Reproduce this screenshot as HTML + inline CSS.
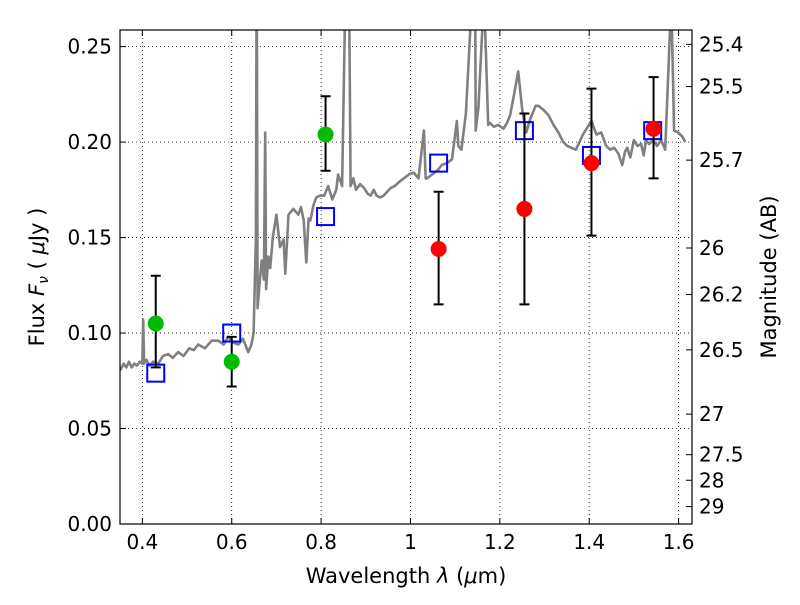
<!DOCTYPE html>
<html><head><meta charset="utf-8"><style>
body{margin:0;background:#fff}
svg{font-family:"DejaVu Sans","Liberation Sans",sans-serif}
</style></head><body>
<svg id="chart" width="800" height="600" xmlns="http://www.w3.org/2000/svg">
<rect width="800" height="600" fill="#fff"/>
<defs><clipPath id="pc"><rect x="120" y="30" width="572" height="494"/></clipPath></defs>
<g id="grid"></g>
<g id="spec" clip-path="url(#pc)"></g>
<g id="marks" clip-path="url(#pc)"></g>
<rect x="120" y="30" width="572" height="494" fill="none" stroke="#000" stroke-width="1.2"/>
<g id="axes"></g>
<text x="406" y="583" font-size="21" text-anchor="middle">Wavelength  <tspan font-style="italic">λ</tspan> (<tspan font-style="italic">μ</tspan>m)</text>
<text transform="translate(44,277) rotate(-90)" font-size="21" text-anchor="middle">Flux  <tspan font-style="italic">F</tspan><tspan font-style="italic" font-size="14" dy="4">ν</tspan><tspan dy="-4">  ( </tspan><tspan font-style="italic">μ</tspan>Jy )</text>
<text transform="translate(776,277) rotate(-90)" font-size="21" text-anchor="middle">Magnitude (AB)</text>
</svg>
<script>
const xTicks=[0.4,0.6,0.8,1.0,1.2,1.4,1.6];
const xTickLabels=["0.4","0.6","0.8","1","1.2","1.4","1.6"];
const yTicks=[0,0.05,0.10,0.15,0.20,0.25];
const yTickLabels=["0.00","0.05","0.10","0.15","0.20","0.25"];
const magTicks=[25.4,25.5,25.7,26,26.2,26.5,27,27.5,28,29];
const magLabels=["25.4","25.5","25.7","26","26.2","26.5","27","27.5","28","29"];
const specWave=[0.346,0.352,0.358,0.364,0.370,0.376,0.382,0.388,0.394,0.400,0.402,0.404,0.409,0.416,0.424,0.436,0.446,0.458,0.468,0.480,0.492,0.505,0.515,0.525,0.540,0.555,0.570,0.582,0.592,0.603,0.615,0.625,0.637,0.644,0.649,0.654,0.656,0.658,0.662,0.667,0.672,0.675,0.677,0.682,0.686,0.692,0.700,0.708,0.716,0.720,0.727,0.738,0.749,0.755,0.761,0.767,0.772,0.776,0.783,0.789,0.798,0.807,0.816,0.825,0.834,0.838,0.847,0.856,0.862,0.866,0.872,0.878,0.887,0.896,0.904,0.911,0.918,0.924,0.932,0.940,0.948,0.956,0.965,0.974,0.985,0.996,1.007,1.018,1.030,1.034,1.037,1.048,1.060,1.070,1.082,1.093,1.104,1.107,1.114,1.124,1.134,1.145,1.146,1.152,1.161,1.167,1.174,1.178,1.187,1.196,1.208,1.216,1.223,1.232,1.241,1.250,1.259,1.268,1.280,1.286,1.297,1.309,1.320,1.331,1.342,1.351,1.360,1.370,1.378,1.386,1.394,1.405,1.416,1.427,1.438,1.447,1.456,1.465,1.474,1.480,1.485,1.492,1.500,1.508,1.516,1.522,1.527,1.534,1.543,1.552,1.561,1.570,1.581,1.585,1.590,1.599,1.608,1.615,1.627];
const specFlux=[0.083,0.081,0.084,0.082,0.085,0.082,0.084,0.083,0.085,0.084,0.107,0.084,0.086,0.083,0.085,0.084,0.088,0.089,0.087,0.090,0.088,0.092,0.091,0.094,0.092,0.096,0.096,0.094,0.098,0.095,0.094,0.097,0.090,0.094,0.100,0.150,0.300,0.113,0.125,0.138,0.128,0.205,0.123,0.140,0.134,0.150,0.162,0.145,0.149,0.131,0.162,0.165,0.162,0.166,0.159,0.137,0.160,0.159,0.167,0.171,0.172,0.172,0.177,0.170,0.175,0.183,0.177,0.300,0.300,0.177,0.181,0.175,0.178,0.176,0.173,0.172,0.175,0.172,0.171,0.172,0.174,0.176,0.177,0.179,0.181,0.183,0.184,0.181,0.206,0.181,0.181,0.183,0.185,0.188,0.189,0.191,0.211,0.198,0.196,0.215,0.260,0.260,0.206,0.218,0.260,0.260,0.209,0.210,0.208,0.209,0.207,0.210,0.214,0.225,0.237,0.217,0.205,0.212,0.219,0.219,0.217,0.214,0.209,0.205,0.200,0.198,0.197,0.196,0.200,0.204,0.207,0.211,0.204,0.205,0.198,0.196,0.197,0.194,0.188,0.195,0.197,0.192,0.201,0.198,0.199,0.193,0.201,0.199,0.201,0.198,0.201,0.196,0.260,0.260,0.206,0.205,0.203,0.200];
const greenWave=[0.43,0.60,0.81];
const greenFlux=[0.105,0.085,0.204];
const greenLo=[0.082,0.072,0.185];
const greenHi=[0.130,0.098,0.224];
const redWave=[1.063,1.255,1.405,1.544];
const redFlux=[0.144,0.165,0.189,0.207];
const redLo=[0.115,0.115,0.151,0.181];
const redHi=[0.174,0.215,0.228,0.234];
const modelWave=[0.43,0.60,0.81,1.063,1.255,1.405,1.542];
const modelFlux=[0.079,0.100,0.161,0.189,0.206,0.193,0.206];

const X0=120,X1=692,Y0=524,Y1=30,xmin=0.350,xmax=1.630,ymin=0,ymax=0.2587;
const sx=v=>X0+(v-xmin)/(xmax-xmin)*(X1-X0);
const sy=v=>Y0-(v-ymin)/(ymax-ymin)*(Y0-Y1);
const NS="http://www.w3.org/2000/svg";
function mk(tag,attrs,parent){const e=document.createElementNS(NS,tag);for(const k in attrs)e.setAttribute(k,attrs[k]);parent.appendChild(e);return e;}
const grid=document.getElementById('grid'),axes=document.getElementById('axes'),spec=document.getElementById('spec'),marks=document.getElementById('marks');
xTicks.forEach((t,i)=>{const x=sx(t);
 let g=mk('line',{x1:x,x2:x,y1:Y1,y2:Y0,stroke:'#000','stroke-width':0.8,'stroke-dasharray':'1,3'},grid);
 
 
 mk('line',{x1:x,x2:x,y1:Y0,y2:Y0-6,stroke:'#000'},axes);
 mk('line',{x1:x,x2:x,y1:Y1,y2:Y1+6,stroke:'#000'},axes);
 let l=mk('text',{x:x,y:Y0+25,'font-size':20,'text-anchor':'middle'},axes);l.textContent=xTickLabels[i];
 
 
});
yTicks.forEach((t,i)=>{const y=sy(t);
 let g=mk('line',{x1:X0,x2:X1,y1:y,y2:y,stroke:'#000','stroke-width':0.8,'stroke-dasharray':'1,3'},grid);
 
 
 mk('line',{x1:X0,x2:X0+6,y1:y,y2:y,stroke:'#000'},axes);
 let l=mk('text',{x:X0-8,y:y+7,'font-size':20,'text-anchor':'end'},axes);l.textContent=yTickLabels[i];
 
 
});
magTicks.forEach((m,i)=>{const y=sy(Math.pow(10,(23.9-m)/2.5));
 mk('line',{x1:X1,x2:X1-6,y1:y,y2:y,stroke:'#000'},axes);
 let l=mk('text',{x:X1+7,y:y+7,'font-size':20},axes);l.textContent=magLabels[i];
 
 
});
let d=specWave.map((w,i)=>(i?'L':'M')+sx(w).toFixed(1)+','+sy(specFlux[i]).toFixed(1)).join('');
let sp=mk('path',{d:d,fill:'none',stroke:'#808080','stroke-width':2.6,'stroke-linejoin':'round'},spec);


function errs(w,lo,hi){w.forEach((v,i)=>{const x=sx(v);
 let e=mk('path',{d:`M${x},${sy(lo[i])}V${sy(hi[i])}M${x-5},${sy(lo[i])}h10M${x-5},${sy(hi[i])}h10`,stroke:'#000','stroke-width':2,fill:'none'},marks);
 
 
});}
modelWave.forEach((v,i)=>{
 let r=mk('rect',{x:sx(v)-8.5,y:sy(modelFlux[i])-8.5,width:17,height:17,fill:'none',stroke:'#0000ff','stroke-width':2},marks);
 
 
});
errs(greenWave,greenLo,greenHi);
errs(redWave,redLo,redHi);
greenWave.forEach((v,i)=>{
 let c=mk('circle',{cx:sx(v),cy:sy(greenFlux[i]),r:8,fill:'#00bb00'},marks);
 
 
});
redWave.forEach((v,i)=>{
 let c=mk('circle',{cx:sx(v),cy:sy(redFlux[i]),r:8,fill:'#ff0000'},marks);
 
 
});
</script>
</body></html>
